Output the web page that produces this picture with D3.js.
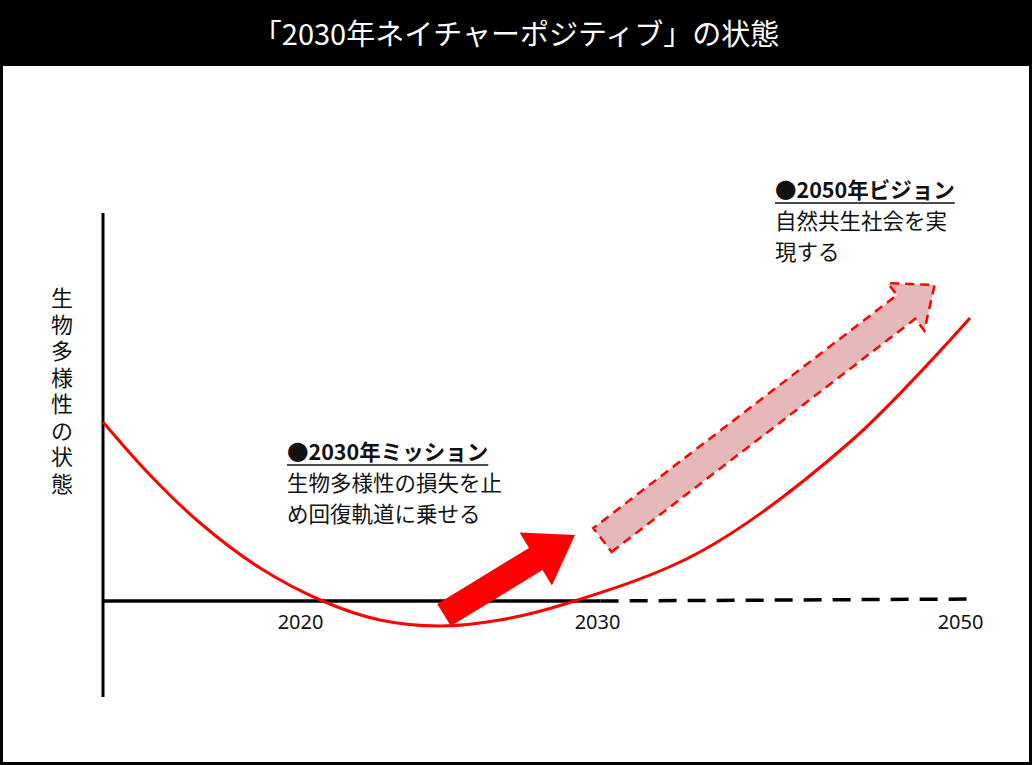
<!DOCTYPE html>
<html><head><meta charset="utf-8">
<script src="https://cdn.jsdelivr.net/npm/d3@7"></script>
<style>body{margin:0;background:#fff}svg{display:block}text{font-family:"Noto Sans CJK JP","Noto Sans",sans-serif}</style>
</head><body><svg id="c" width="1032" height="765"></svg>
<script>
const title = "「2030年ネイチャーポジティブ」の状態";
const yLabel = "生物多様性の状態";
const tickYears = [2020, 2030, 2050];
const curveYears = [2013, 2014.67, 2016.45, 2018.58, 2020.84, 2022.69, 2024.71, 2026.73, 2028.92, 2035.67, 2043.94, 2050.55];
const curveLevels = [1.79, 1.26, 0.78, 0.33, -0.01, -0.19, -0.25, -0.19, -0.03, 0.49, 1.59, 2.83];
const solidBase = [2013, 2030.2];
const dashedBase = [2030.2, 2050.8];
const missionArrow = [[2024.85, -0.14], [2029.26, 0.66]];
const visionArrow = [[2030.3, 0.61], [2048.6, 3.16]];
const missionText = ["●2030年ミッション", "生物多様性の損失を止", "め回復軌道に乗せる"];
const visionText = ["●2050年ビジョン", "自然共生社会を実", "現する"];

const svg = d3.select("#c");
const x = d3.scaleLinear().domain([2013, 2020, 2030, 2050]).range([103, 300, 597, 960]);
const y = d3.scaleLinear().domain([0, 1]).range([601, 501]);

svg.append("rect").attr("x", 1.5).attr("y", 1.5).attr("width", 1029).attr("height", 762).attr("fill", "#fff").attr("stroke", "#000").attr("stroke-width", 3);
svg.append("rect").attr("x", 0).attr("y", 0).attr("width", 1032).attr("height", 66).attr("fill", "#000");
svg.append("text").attr("x", 516).attr("y", 45).attr("text-anchor", "middle").attr("fill", "#fff").attr("font-size", 29).text(title);

svg.append("line").attr("x1", x(2013)).attr("x2", x(2013)).attr("y1", y(3.88)).attr("y2", y(-0.96)).attr("stroke", "#000").attr("stroke-width", 3);
svg.append("line").attr("x1", x(solidBase[0])).attr("x2", x(solidBase[1])).attr("y1", y(0)).attr("y2", y(0)).attr("stroke", "#000").attr("stroke-width", 3.5);
svg.append("line").attr("x1", x(dashedBase[0])).attr("x2", x(dashedBase[1])).attr("y1", y(0)).attr("y2", y(0.02)).attr("stroke", "#000").attr("stroke-width", 3.5).attr("stroke-dasharray", "18,11");

const ax = d3.axisBottom(x).tickValues(tickYears).tickFormat(d3.format("d")).tickSize(0).tickPadding(14);
const g = svg.append("g").attr("transform", `translate(0,${y(0)})`).call(ax);
g.select(".domain").remove();
g.attr("font-size", 20);
g.selectAll("text").style("font-size", "20px").attr("fill", "#111").style("font-family", "'Noto Sans',sans-serif");

const yl = svg.append("text").attr("font-size", 22).attr("text-anchor", "middle").attr("fill", "#111");
Array.from(yLabel).forEach((ch, i) => yl.append("tspan").attr("x", 62).attr("y", 306 + i * 26.5).text(ch));

const pts = curveYears.map((d, i) => [x(d), y(curveLevels[i])]);
svg.append("path").attr("d", d3.line().curve(d3.curveCatmullRom)(pts)).attr("fill", "none").attr("stroke", "#f00").attr("stroke-width", 3);

function arrow(a, shaft, head, headLen) {
  const [x0, y0] = [x(a[0][0]), y(a[0][1])], [x1, y1] = [x(a[1][0]), y(a[1][1])];
  const L = Math.hypot(x1 - x0, y1 - y0), ux = (x1 - x0) / L, uy = (y1 - y0) / L, nx = -uy, ny = ux;
  const bx = x1 - ux * headLen, by = y1 - uy * headLen;
  const p = [[x0 + nx * shaft / 2, y0 + ny * shaft / 2], [bx + nx * shaft / 2, by + ny * shaft / 2], [bx + nx * head / 2, by + ny * head / 2], [x1, y1],
    [bx - nx * head / 2, by - ny * head / 2], [bx - nx * shaft / 2, by - ny * shaft / 2], [x0 - nx * shaft / 2, y0 - ny * shaft / 2]];
  return "M" + p.map(q => q.join(",")).join("L") + "Z";
}
svg.append("path").attr("d", arrow(missionArrow, 26, 62, 46)).attr("fill", "#f00");
svg.append("path").attr("d", arrow(visionArrow, 30, 60, 36)).attr("fill", "#e6b9b9").attr("stroke", "#f00").attr("stroke-width", 2.5).attr("stroke-dasharray", "9,6");

function block(lines, x0, y0) {
  lines.forEach((t, i) => {
    const tx = svg.append("text").attr("x", x0).attr("y", y0 + i * 31).attr("font-size", 21.5).attr("fill", "#111")
      .attr("font-weight", i === 0 ? "bold" : "normal").text(t);
    if (i === 0) {
      const w = tx.node().getComputedTextLength();
      svg.append("line").attr("x1", x0).attr("x2", x0 + w).attr("y1", y0 + 5).attr("y2", y0 + 5).attr("stroke", "#111").attr("stroke-width", 1.5);
    }
  });
}
block(missionText, 287, 460);
block(visionText, 775, 198);
</script></body></html>
